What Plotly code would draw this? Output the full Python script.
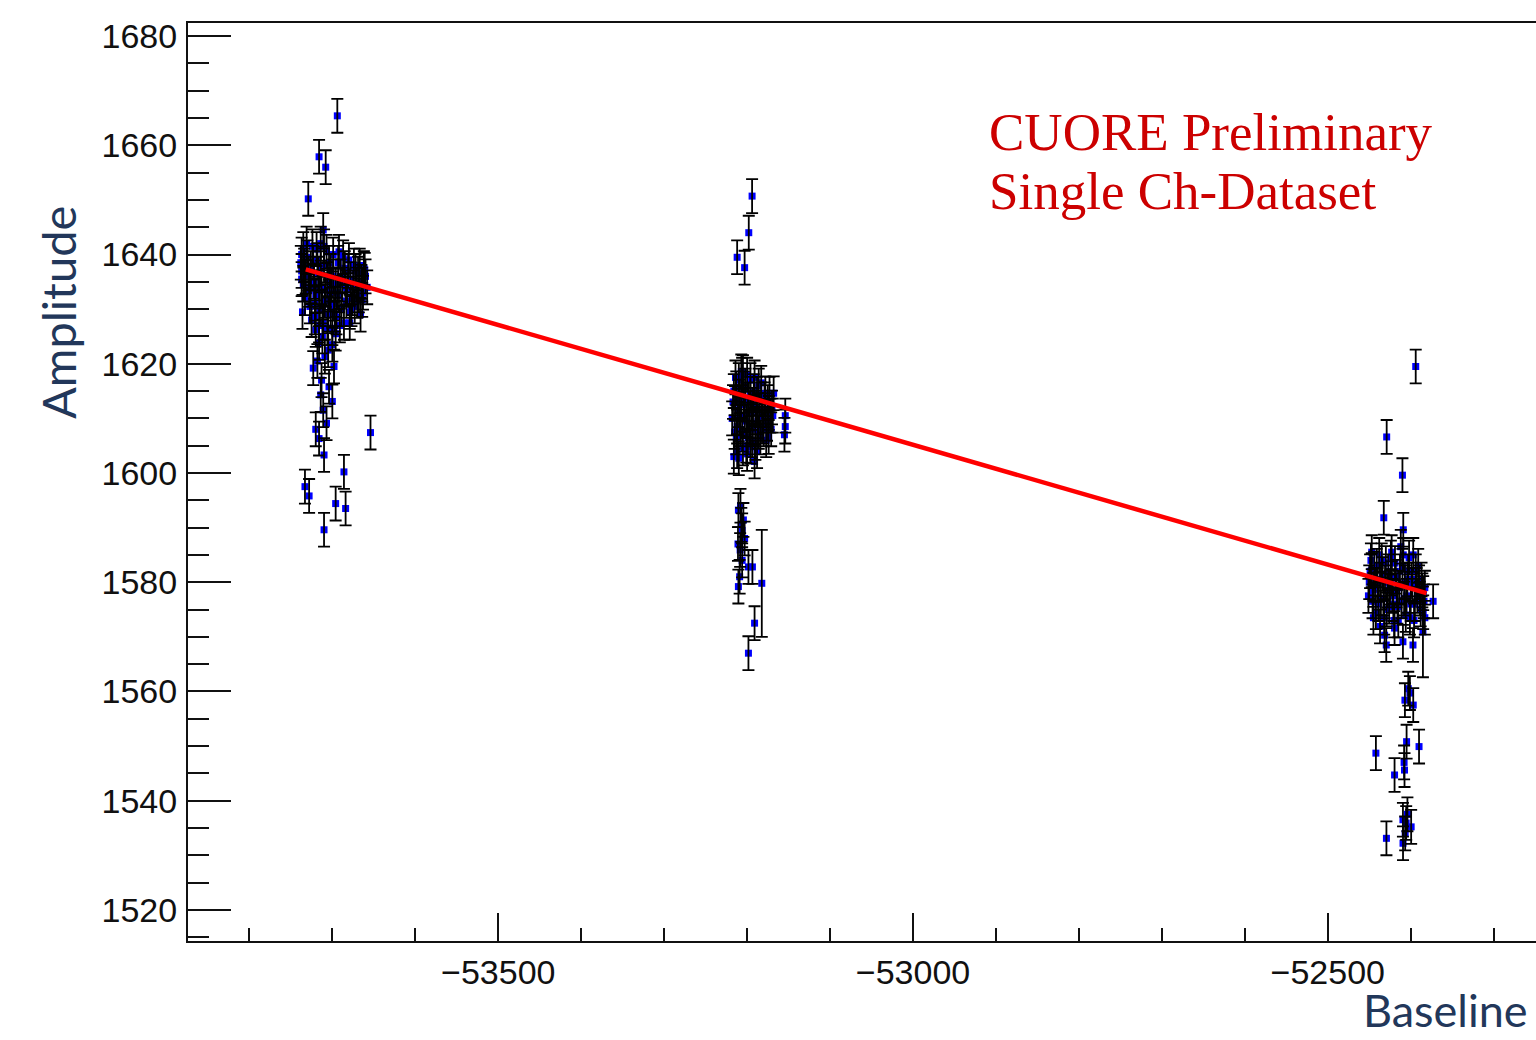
import plotly.graph_objects as go

# ---------------- data ----------------
# Dataset 1 (left cluster)
base_1 = [-53694, -53716, -53708, -53729, -53711, -53661, -53664, -53679, -53737, -53737,
          -53720, -53716, -53709, -53723, -53698, -53713, -53714, -53700, -53707, -53716,
          -53654, -53710, -53686, -53733, -53728, -53696, -53684, -53710, -53712, -53705,
          -53718, -53704, -53711, -53720,
          -53738, -53735, -53735, -53733, -53732, -53730, -53728, -53727, -53726, -53724,
          -53722, -53721, -53720, -53718, -53717, -53715, -53714, -53713, -53711, -53710,
          -53709, -53707, -53706, -53705, -53703, -53702, -53700, -53699, -53698, -53696,
          -53695, -53693, -53692, -53690, -53689, -53687, -53686, -53684, -53683, -53681,
          -53679, -53678, -53676, -53674, -53673, -53671, -53669, -53668, -53666, -53665,
          -53663, -53660, -53658,
          -53737, -53736, -53734, -53731, -53729, -53726, -53725, -53723, -53721, -53719,
          -53716, -53716, -53714, -53712, -53710, -53708, -53706, -53704, -53702, -53701,
          -53699, -53697, -53694, -53692, -53691, -53688, -53685, -53682, -53680, -53677,
          -53675, -53672, -53670, -53667, -53664, -53662, -53700, -53696]
amp_1 = [1665.4, 1657.9, 1656.0, 1650.2, 1644.5, 1637.2, 1631.7, 1627.5, 1640.0, 1637.0,
         1626.2, 1623.8, 1621.3, 1619.2, 1619.5, 1617.0, 1614.3, 1613.1, 1609.1, 1606.3,
         1607.4, 1603.3, 1600.2, 1597.5, 1595.8, 1594.4, 1593.5, 1589.6, 1625.0, 1622.5,
         1620.5, 1615.8, 1611.5, 1608.0,
         1638.5, 1641.0, 1634.5, 1632.0, 1636.0, 1639.5, 1633.5, 1630.5, 1637.5, 1641.5,
         1635.0, 1628.5, 1632.5, 1639.0, 1636.5, 1630.0, 1642.0, 1634.0, 1627.5, 1638.0,
         1631.5, 1640.5, 1635.5, 1629.0, 1633.0, 1637.0, 1626.5, 1640.0, 1631.0, 1634.5,
         1628.5, 1638.5, 1632.5, 1636.0, 1630.0, 1639.5, 1627.5, 1634.0, 1631.5, 1637.0,
         1629.5, 1635.5, 1632.0, 1638.0, 1630.5, 1634.5, 1636.5, 1632.5, 1629.0, 1635.0,
         1633.0, 1636.0, 1634.0,
         1635.5, 1629.5, 1638.0, 1642.0, 1636.5, 1634.0, 1628.0, 1638.5, 1631.0, 1641.0,
         1633.5, 1627.0, 1637.5, 1630.5, 1641.5, 1633.5, 1626.5, 1638.5, 1630.0, 1634.5,
         1636.0, 1629.0, 1633.0, 1640.5, 1627.0, 1634.5, 1637.5, 1633.5, 1639.0, 1630.0,
         1634.0, 1637.0, 1631.5, 1638.0, 1634.5, 1637.5, 1623.5, 1625.5]
err_1 = [3.1] * len(amp_1)

# Dataset 2 (middle cluster)
base_2 = [-53194, -53198, -53212, -53203,
          -53214.5, -53212, -53216, -53210, -53196, -53191, -53174, -53168, -53178,
          -53154, -53154, -53155,
          -53218, -53216, -53214, -53213, -53211, -53209, -53208, -53206, -53205, -53204,
          -53202, -53201, -53199, -53198, -53196, -53195, -53193, -53192, -53190, -53189,
          -53187, -53186, -53184, -53183, -53181, -53180, -53178, -53176, -53175, -53172,
          -53170, -53207, -53205,
          -53217, -53215, -53213, -53212, -53210, -53209, -53207, -53206, -53204, -53203,
          -53201, -53200, -53199, -53197, -53196, -53194, -53193, -53191, -53190, -53188,
          -53186, -53185, -53183, -53182, -53179, -53177, -53174, -53173, -53171, -53169,
          -53200, -53188,
          -53210.5, -53204.5, -53208, -53206, -53203, -53208.4, -53206, -53198.4, -53193.6,
          -53210.5, -53182.3, -53191, -53198.4, -53207, -53211, -53209]
amp_2 = [1650.7, 1644.0, 1639.5, 1637.6,
         1612.8, 1608.5, 1603.0, 1602.7, 1604.8, 1602.1, 1606.6, 1614.6, 1614.6,
         1608.5, 1610.5, 1607.0,
         1610.0, 1615.0, 1617.5, 1606.5, 1611.5, 1614.0, 1608.0, 1618.0, 1604.5, 1612.5,
         1616.0, 1609.5, 1606.5, 1613.5, 1617.0, 1611.0, 1608.0, 1615.0, 1605.5, 1612.0,
         1609.5, 1616.0, 1606.5, 1613.5, 1610.5, 1608.0, 1611.5, 1609.0, 1613.0, 1610.5,
         1612.0, 1618.6, 1618.5,
         1613.0, 1607.5, 1615.5, 1604.0, 1617.0, 1610.0, 1613.0, 1607.0, 1615.5, 1610.5,
         1605.0, 1618.0, 1611.0, 1608.5, 1614.5, 1606.0, 1612.5, 1617.5, 1609.0, 1614.5,
         1607.5, 1611.5, 1616.5, 1608.5, 1613.5, 1606.0, 1611.0, 1614.5, 1608.0, 1610.5,
         1603.5, 1604.0,
         1593.2, 1591.4, 1594.0, 1589.5, 1588.0, 1585.9, 1584.0, 1582.8, 1582.8,
         1579.2, 1579.8, 1572.5, 1567.0, 1590.5, 1587.0, 1581.0]
err_2 = [3.1] * len(amp_2)
err_2[base_2.index(-53182.3)] = 9.8

# Dataset 3 (right cluster)
base_3 = [-52394, -52429, -52410, -52432.5, -52409,
          -52447, -52445, -52423, -52385, -52373, -52437, -52431.5, -52429.5, -52419.5,
          -52409.4, -52397.3, -52385.3,
          -52450, -52448, -52446, -52444, -52442, -52440, -52438, -52436, -52434, -52432,
          -52430, -52428, -52426, -52424, -52422, -52420, -52418, -52416, -52414, -52412,
          -52410, -52408, -52406, -52404, -52402, -52400, -52398, -52396, -52394, -52392,
          -52390, -52388, -52386, -52384, -52383,
          -52451, -52449, -52447, -52445, -52443, -52441, -52439, -52437, -52435, -52433,
          -52431, -52429, -52427, -52425, -52423, -52421, -52419, -52417, -52415, -52413,
          -52411, -52409, -52407, -52405, -52403, -52401, -52399, -52397, -52395, -52393,
          -52391, -52389, -52387, -52385, -52383,
          -52401, -52397, -52407, -52403, -52405, -52390, -52442, -52419.5, -52407.5,
          -52409.4, -52405.5, -52399.5, -52429.3, -52409.3, -52406.7, -52404, -52408]
amp_3 = [1619.5, 1606.6, 1599.6, 1591.8, 1589.6,
         1582.2, 1578.6, 1580.7, 1578.0, 1576.5, 1571.9, 1570.3, 1568.5, 1571.6,
         1569.1, 1568.5, 1570.9,
         1580.0, 1584.0, 1576.5, 1582.5, 1574.5, 1579.5, 1585.0, 1577.0, 1581.5, 1573.5,
         1583.5, 1578.5, 1575.5, 1584.5, 1577.5, 1573.0, 1581.0, 1575.5, 1579.0, 1586.5,
         1583.0, 1577.0, 1574.0, 1580.5, 1584.5, 1576.0, 1579.5, 1573.0, 1582.0, 1577.5,
         1580.0, 1575.0, 1578.5, 1576.5, 1573.5,
         1577.5, 1582.0, 1585.5, 1573.5, 1579.5, 1583.0, 1576.0, 1580.5, 1584.0, 1577.0,
         1580.0, 1575.0, 1582.0, 1579.0, 1585.5, 1576.0, 1583.5, 1578.5, 1573.0, 1582.0,
         1576.5, 1585.0, 1580.0, 1577.5, 1582.0, 1573.5, 1580.5, 1585.0, 1576.0, 1579.5,
         1583.0, 1577.0, 1580.5, 1574.5, 1579.0,
         1559.7, 1557.5, 1558.4, 1560.5, 1550.8, 1549.9, 1548.7, 1544.7, 1545.6,
         1536.5, 1535.9, 1535.2, 1533.1, 1532.2, 1534.0, 1537.5, 1547.0]
err_3 = [3.1] * len(amp_3)
err_3[base_3.index(-52385.3)] = 8.3

# Linear fit drawn in red
fit_base = [-53732, -52381]
fit_amp = [1637.3, 1578.0]

x_ticks = [-53500, -53000, -52500]
x_tick_text = ["\u221253500", "\u221253000", "\u221252500"]
y_ticks = [1520, 1540, 1560, 1580, 1600, 1620, 1640, 1660, 1680]

# ---------------- figure ----------------
base_all = base_1 + base_2 + base_3
amp_all = amp_1 + amp_2 + amp_3
err_all = err_1 + err_2 + err_3

fig = go.Figure()
# markers first
fig.add_trace(go.Scatter(
    x=base_all, y=amp_all, mode="markers",
    marker=dict(symbol="square", size=7, color="#0000ff", line=dict(width=0)),
    showlegend=False, hoverinfo="x+y",
))
# error bars painted over the markers (as in the original)
fig.add_trace(go.Scatter(
    x=base_all, y=amp_all, mode="markers",
    marker=dict(size=1, opacity=0),
    error_y=dict(type="data", array=err_all, visible=True, color="black",
                 thickness=1.8, width=6),
    showlegend=False, hoverinfo="skip",
))
fig.add_trace(go.Scatter(
    x=fit_base, y=fit_amp, mode="lines",
    line=dict(color="#ff0000", width=4.5), showlegend=False,
))

tick_font = dict(family="Liberation Sans, Arial, sans-serif", size=34, color="#111111")

fig.update_layout(
    width=1536, height=1040,
    margin=dict(l=188, r=0, t=23, b=99),
    paper_bgcolor="white", plot_bgcolor="white",
    xaxis=dict(
        range=[-53874, -52249], showgrid=False, zeroline=False,
        showline=True, linecolor="#111111", linewidth=2, mirror=True,
        tickmode="array", tickvals=x_ticks, ticktext=x_tick_text,
        ticks="inside", ticklen=28, tickwidth=2, tickcolor="#111111",
        tickfont=tick_font, ticklabelstandoff=0,
        minor=dict(dtick=100, tick0=-53500, ticks="inside", ticklen=13,
                   tickwidth=2, tickcolor="#111111", showgrid=False),
    ),
    yaxis=dict(
        range=[1514.3, 1682.4], showgrid=False, zeroline=False,
        showline=True, linecolor="#111111", linewidth=2, mirror=False,
        tickmode="array", tickvals=y_ticks,
        ticks="inside", ticklen=43, tickwidth=2, tickcolor="#111111",
        tickfont=tick_font, ticklabelstandoff=2,
        minor=dict(dtick=5, tick0=1520, ticks="inside", ticklen=21,
                   tickwidth=2, tickcolor="#111111", showgrid=False),
    ),
    annotations=[
        dict(text="CUORE Preliminary", xref="paper", yref="paper",
             x=(987 - 188) / 1348, y=1 - (132 - 23) / 918,
             xanchor="left", yanchor="middle", showarrow=False,
             font=dict(family="Liberation Serif, Times New Roman, serif", size=53,
                       color="#cc0000")),
        dict(text="Single Ch-Dataset", xref="paper", yref="paper",
             x=(987 - 188) / 1348, y=1 - (191 - 23) / 918,
             xanchor="left", yanchor="middle", showarrow=False,
             font=dict(family="Lato, Open Sans, sans-serif".replace("Lato, Open Sans, sans-serif", "Liberation Serif, Times New Roman, serif"), size=53,
                       color="#cc0000")),
        dict(text="Amplitude", xref="paper", yref="paper",
             x=(58 - 188) / 1348, y=1 - (313 - 23) / 918,
             xanchor="center", yanchor="middle", textangle=-90, showarrow=False,
             font=dict(family="Lato, Open Sans, sans-serif", size=47, color="#22375a")),
        dict(text="Baseline", xref="paper", yref="paper",
             x=(1530 - 188) / 1348, y=1 - (1039 - 23) / 918,
             xanchor="right", yanchor="bottom", showarrow=False,
             font=dict(family="Lato, Open Sans, sans-serif", size=45, color="#22375a")),
    ],
)

fig.write_html("out.html")
